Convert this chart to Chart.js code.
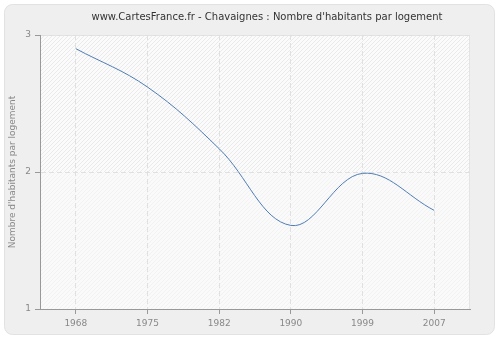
<!DOCTYPE html>
<html lang="fr">
<head>
    <meta charset="UTF-8">
    <title>Chavaignes : Nombre d'habitants par logement</title>
    <script src="https://cdn.jsdelivr.net/npm/chart.js"></script>
    <style>
        html, body { margin: 0; padding: 0; background: #ffffff; }
        .chart-container { width: 500px; height: 340px; }
    </style>
</head>
<body>
    <div class="chart-container">
        <canvas id="habChart" width="500" height="340"></canvas>
    </div>

    <script>
        // Data
        const years = ['1968', '1975', '1982', '1990', '1999', '2007'];
        const habParLogement = [2.90, 2.62, 2.17, 1.61, 1.99, 1.72];
        const yTicks = [1, 2, 3];

        const titleText = "www.CartesFrance.fr - Chavaignes : Nombre d'habitants par logement";
        const fontName = "'DejaVu Sans', Verdana, sans-serif";

        function hatch(bg, line) {
            const c = document.createElement('canvas');
            c.width = 4; c.height = 4;
            const g = c.getContext('2d');
            g.fillStyle = bg;
            g.fillRect(0, 0, 4, 4);
            g.strokeStyle = line;
            g.lineWidth = 1;
            g.beginPath();
            g.moveTo(0, 4); g.lineTo(4, 0);
            g.moveTo(-2, 2); g.lineTo(2, -2);
            g.moveTo(2, 6); g.lineTo(6, 2);
            g.stroke();
            return c;
        }

        // panel, plot background and title
        const backdrop = {
            id: 'backdrop',
            beforeDraw(chart) {
                const ctx = chart.ctx;
                const a = chart.chartArea;
                ctx.save();
                ctx.fillStyle = '#ffffff';
                ctx.fillRect(0, 0, chart.width, chart.height);
                ctx.beginPath();
                ctx.roundRect(4.5, 4.5, 490, 330, 8);
                ctx.fillStyle = '#efefef';
                ctx.fill();
                ctx.strokeStyle = '#e2e2e2';
                ctx.lineWidth = 1;
                ctx.stroke();

                const mid = chart.scales.y.getPixelForValue(2);
                ctx.fillStyle = ctx.createPattern(hatch('#fbfbfb', '#eaeaea'), 'repeat');
                ctx.fillRect(a.left, a.top, a.right - a.left, mid - a.top);
                ctx.fillStyle = ctx.createPattern(hatch('#fafafa', '#f2f2f2'), 'repeat');
                ctx.fillRect(a.left, mid, a.right - a.left, a.bottom - mid);
                ctx.strokeStyle = '#e4e4e4';
                ctx.strokeRect(a.left + 0.5, a.top + 0.5, a.right - a.left - 1, a.bottom - a.top);

                ctx.fillStyle = '#333333';
                ctx.font = '10px ' + fontName;
                ctx.textAlign = 'center';
                ctx.textBaseline = 'middle';
                ctx.fillText(titleText, 267, 17);
                ctx.restore();
            }
        };

        const ctx = document.getElementById('habChart').getContext('2d');
        new Chart(ctx, {
            type: 'line',
            data: {
                labels: years,
                datasets: [{
                    data: habParLogement,
                    borderColor: '#4f7db6',
                    borderWidth: 1,
                    pointRadius: 0,
                    tension: 0.38,
                    fill: false
                }]
            },
            options: {
                responsive: false,
                animation: false,
                devicePixelRatio: 1,
                layout: { padding: { left: 5, top: 35, right: 30, bottom: 0 } },
                plugins: {
                    legend: { display: false },
                    tooltip: { enabled: false },
                    title: { display: false }
                },
                scales: {
                    x: {
                        offset: true,
                        afterFit(scale) { scale.height = 31; },
                        grid: {
                            color: '#e0e0e0',
                            tickColor: '#999999',
                            tickLength: 5,
                            offset: false
                        },
                        border: { color: '#999999', width: 1, dash: [5, 3] },
                        ticks: {
                            color: '#888888',
                            font: { family: fontName, size: 9 },
                            padding: 4,
                            maxRotation: 0
                        }
                    },
                    y: {
                        min: 1,
                        max: 3,
                        afterFit(scale) { scale.width = 35; },
                        afterBuildTicks(scale) {
                            scale.ticks = yTicks.map(v => ({ value: v }));
                        },
                        grid: {
                            color: '#e0e0e0',
                            tickColor: '#999999',
                            tickLength: 5
                        },
                        border: { color: '#999999', width: 1, dash: [5, 3] },
                        ticks: {
                            color: '#888888',
                            font: { family: fontName, size: 9 },
                            padding: 4
                        },
                        title: {
                            display: true,
                            text: "Nombre d'habitants par logement",
                            color: '#888888',
                            font: { family: fontName, size: 9 },
                            padding: { top: 2, bottom: 2 }
                        }
                    }
                }
            },
            plugins: [backdrop]
        });
    </script>
</body>
</html>
